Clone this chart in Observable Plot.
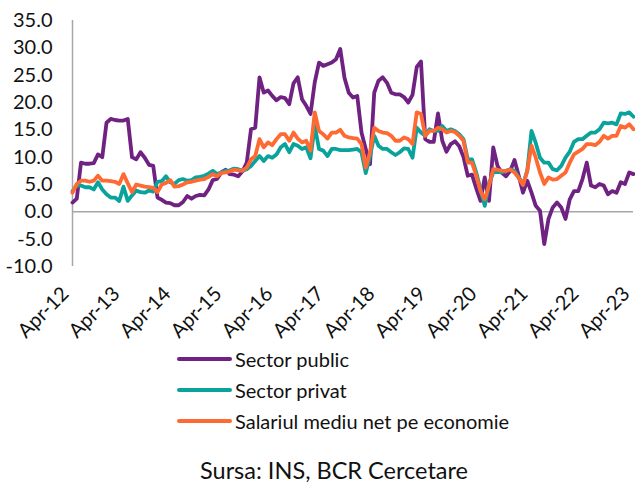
<!DOCTYPE html>
<html><head><meta charset="utf-8">
<script src="https://cdn.jsdelivr.net/npm/d3@7"></script>
<script src="https://cdn.jsdelivr.net/npm/@observablehq/plot@0.6"></script>
<style>
body{margin:0;background:#fff;font-family:Lato,sans-serif;}
#wrap{position:relative;width:635px;height:484px;overflow:hidden;background:#fff;}
#chart{position:absolute;left:0;top:0;}
.leg{position:absolute;left:177px;height:30px;line-height:30px;display:flex;align-items:center;font-size:20px;color:#111;white-space:nowrap;}
.leg .sw{display:inline-block;width:55px;height:3.5px;margin-right:3px;border-radius:2px;}
#src{position:absolute;left:34px;width:600px;top:457px;height:27px;line-height:27px;text-align:center;font-size:23.5px;color:#111;}
</style></head>
<body><div id="wrap"><div id="chart"></div></div>
<script>
const seriesNames = ["Sector public", "Sector privat", "Salariul mediu net pe economie"];
const seriesColors = ["#6f2281", "#0aa39c", "#ff6a33"];
const xTickLabels = ["Apr-12","Apr-13","Apr-14","Apr-15","Apr-16","Apr-17","Apr-18","Apr-19","Apr-20","Apr-21","Apr-22","Apr-23"];
const yTicks = [-10,-5,0,5,10,15,20,25,30,35];
const sourceText = "Sursa: INS, BCR Cercetare";

// monthly values, Apr-12 .. Apr-23 (133 months)
const sectorPublic = [
1.7,2.4,9.0,8.8,8.8,8.9,10.5,10.0,16.3,17.0,16.8,16.7,16.7,17.0,10.0,9.6,10.9,9.9,8.6,8.4,
2.6,2.2,1.7,1.6,1.2,1.2,1.8,2.9,2.4,2.9,3.1,3.0,4.1,5.8,6.0,7.2,7.7,6.9,6.8,6.5,
7.4,9.0,15.1,15.4,24.6,21.8,22.2,21.2,20.4,21.0,20.8,19.7,23.5,24.6,20.6,19.4,17.9,23.7,27.3,26.7,
27.0,27.3,27.9,29.8,24.5,21.8,20.9,21.2,14.5,11.5,8.7,21.8,24.0,24.6,23.6,21.8,21.5,21.5,21.0,20.0,
21.4,26.5,27.5,13.3,12.8,12.8,18.0,13.0,11.0,12.4,12.9,12.0,10.0,6.6,6.8,4.3,2.0,6.3,2.0,11.8,
8.4,7.2,6.5,7.5,9.5,6.6,3.5,5.7,3.5,1.1,0.2,-5.9,-1.3,0.8,1.7,0.8,-1.3,2.3,3.8,3.8,
6.0,9.0,4.8,4.5,5.1,4.8,3.2,3.8,3.5,5.4,5.1,7.2,6.9];
const sectorPrivat = [
3.8,4.8,4.8,4.5,4.5,4.1,5.4,4.1,3.2,2.6,2.6,2.0,4.6,2.0,3.0,3.9,3.6,3.5,3.9,3.7,
5.5,5.6,6.5,5.4,5.1,5.8,6.0,5.7,5.8,6.3,6.4,6.6,7.0,7.5,6.9,7.2,7.5,7.6,7.9,7.8,
7.5,7.8,8.4,9.3,10.2,9.3,10.2,9.9,10.5,11.8,12.4,10.9,12.4,12.1,11.5,11.8,9.8,15.7,11.5,11.2,
10.2,11.5,11.5,11.3,11.3,11.3,11.4,11.5,10.9,7.1,10.2,13.9,12.1,11.5,11.5,10.9,10.4,10.9,11.6,11.5,
9.9,15.4,14.5,13.9,15.1,14.8,14.8,15.7,14.8,15.1,14.8,14.2,13.3,9.6,9.6,7.2,4.1,1.1,5.1,7.2,
7.3,7.2,7.5,7.8,7.5,6.3,5.0,7.5,14.8,12.6,9.9,9.0,9.0,7.8,7.6,8.4,9.9,11.0,12.8,13.3,
13.3,13.9,14.5,14.5,15.1,16.3,16.2,16.3,16.0,18.0,17.9,18.2,17.4];
const salariulMediu = [
3.5,5.1,5.7,5.7,5.5,5.7,6.6,5.7,5.7,5.6,5.5,5.1,6.9,5.2,3.6,5.0,4.8,4.6,4.5,4.4,
3.6,5.0,5.3,5.8,4.6,4.7,5.0,5.4,5.5,5.7,5.9,6.0,6.4,6.9,6.5,7.1,7.2,7.4,7.7,7.6,
7.5,8.1,9.6,10.2,13.3,11.8,12.7,12.2,13.3,14.2,14.2,13.0,14.5,13.4,12.7,13.0,11.2,18.2,14.8,14.2,
13.4,14.5,14.5,15.0,13.9,13.6,13.5,13.4,12.4,8.1,10.9,15.4,14.8,14.5,14.4,13.9,13.0,13.0,13.6,13.3,
12.4,18.2,17.9,13.9,14.8,14.8,15.4,15.1,14.5,14.8,14.6,13.9,13.0,9.0,9.0,6.6,3.8,2.3,4.8,7.8,
7.7,7.5,7.5,7.7,7.2,6.2,4.9,7.5,12.1,9.9,7.2,5.1,6.3,5.9,6.0,6.6,7.2,9.0,10.5,11.0,
11.5,12.4,12.4,12.2,12.8,13.9,13.4,13.9,13.9,15.7,15.4,16.0,15.1];

const seriesValues = [sectorPublic, sectorPrivat, salariulMediu];
const rows = [];
seriesValues.forEach((vals, k) => vals.forEach((v, i) => rows.push({month: i, value: v, series: seriesNames[k]})));
const lastIndex = sectorPublic.length - 1;
const xTickPos = xTickLabels.map((_, j) => j * 12);

const chart = Plot.plot({
  width: 635, height: 352,
  marginLeft: 72, marginRight: 2, marginTop: 20, marginBottom: 86,
  style: {fontFamily: "Lato, sans-serif", fontSize: "20px", color: "#111", background: "transparent", overflow: "visible"},
  x: {domain: [0, lastIndex]},
  y: {domain: [d3.min(yTicks), d3.max(yTicks)]},
  color: {domain: seriesNames, range: seriesColors},
  marks: [
    Plot.ruleY([0], {stroke: "#a6a6a6", strokeWidth: 1.5}),
    Plot.ruleX([0], {stroke: "#a6a6a6", strokeWidth: 1.5}),
    Plot.axisY({ticks: yTicks, tickSize: 0, tickPadding: 20, tickFormat: d => d.toFixed(1), label: null}),
    Plot.axisX({ticks: xTickPos, tickSize: 0, tickPadding: 24, dx: -7, tickRotate: -45, tickFormat: d => xTickLabels[d / 12], label: null}),
    Plot.line(rows, {x: "month", y: "value", stroke: "series", z: "series", strokeWidth: 3.8, strokeLinejoin: "round"})
  ]
});
const wrap = document.getElementById("wrap");
document.getElementById("chart").appendChild(chart);

const legTops = [344, 375, 406];
seriesNames.forEach((name, k) => {
  const d = document.createElement("div");
  d.className = "leg";
  d.style.top = legTops[k] + "px";
  const sw = document.createElement("span");
  sw.className = "sw";
  sw.style.background = seriesColors[k];
  d.appendChild(sw);
  d.appendChild(document.createTextNode(name));
  wrap.appendChild(d);
});
const src = document.createElement("div");
src.id = "src";
src.textContent = sourceText;
wrap.appendChild(src);
</script>
</body></html>
